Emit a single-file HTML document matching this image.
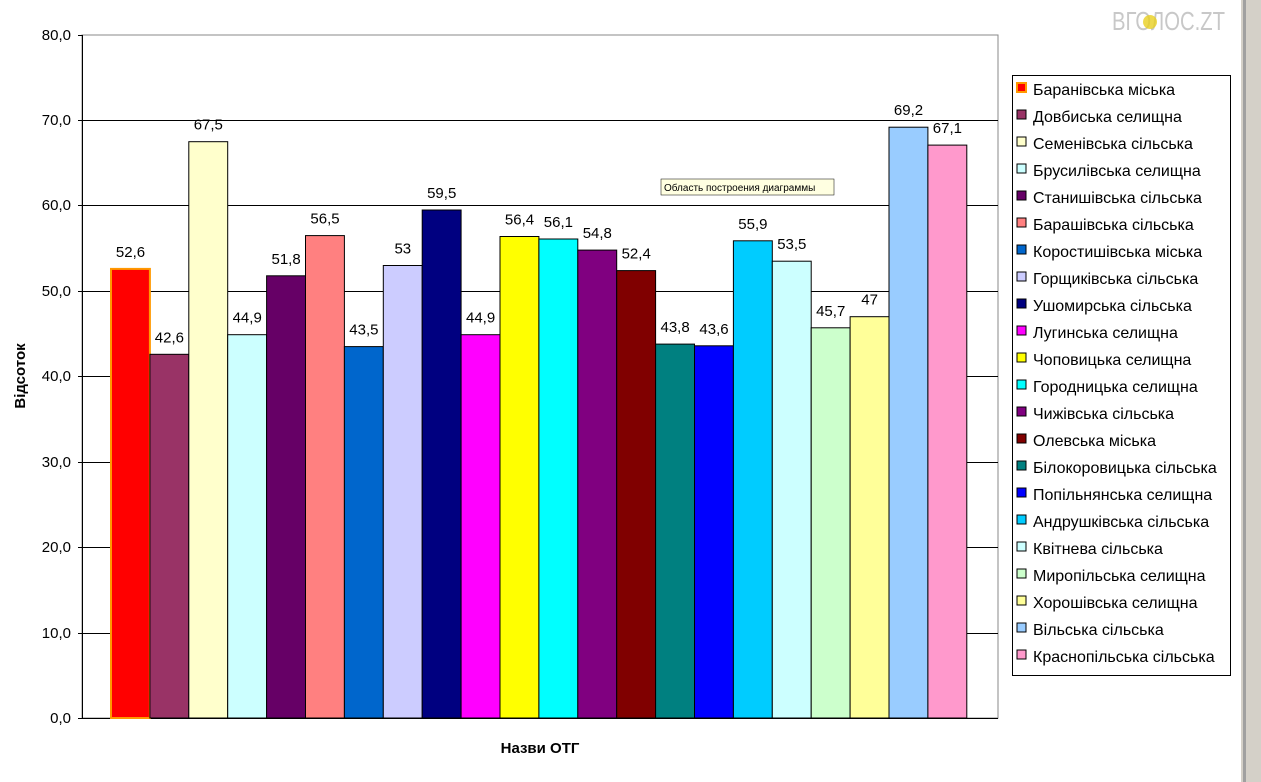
<!DOCTYPE html><html><head><meta charset="utf-8"><style>body{margin:0;background:#fff}svg{display:block}text{font-family:"Liberation Sans",sans-serif}</style></head><body>
<svg width="1261" height="782" viewBox="0 0 1261 782">
<rect x="1241" y="0" width="20" height="782" fill="#d4d0c8"/><rect x="1243" y="0" width="3" height="782" fill="#a0a0a0"/>
<text x="1112" y="30" font-size="26" fill="#c8c8c8" textLength="113" lengthAdjust="spacingAndGlyphs">ВГОЛОС.ZT</text>
<circle cx="1150" cy="22" r="7" fill="#e8d020" opacity="0.8"/>
<rect x="82" y="35" width="916" height="683" fill="#fff" stroke="#888" stroke-width="1"/>
<g stroke="#000" stroke-width="1">
<line x1="82" y1="120.5" x2="998" y2="120.5"/><line x1="82" y1="205.5" x2="998" y2="205.5"/><line x1="82" y1="291.5" x2="998" y2="291.5"/><line x1="82" y1="376.5" x2="998" y2="376.5"/><line x1="82" y1="462.5" x2="998" y2="462.5"/><line x1="82" y1="547.5" x2="998" y2="547.5"/><line x1="82" y1="633.5" x2="998" y2="633.5"/>
<line x1="82.5" y1="35" x2="82.5" y2="718"/><line x1="78" y1="718.5" x2="998" y2="718.5"/>
<line x1="78" y1="35.5" x2="82" y2="35.5"/><line x1="78" y1="120.5" x2="82" y2="120.5"/><line x1="78" y1="205.5" x2="82" y2="205.5"/><line x1="78" y1="291.5" x2="82" y2="291.5"/><line x1="78" y1="376.5" x2="82" y2="376.5"/><line x1="78" y1="462.5" x2="82" y2="462.5"/><line x1="78" y1="547.5" x2="82" y2="547.5"/><line x1="78" y1="633.5" x2="82" y2="633.5"/>
</g>
<g font-size="15" text-anchor="end" fill="#000">
<text x="71" y="40">80,0</text><text x="71" y="125">70,0</text><text x="71" y="210">60,0</text><text x="71" y="296">50,0</text><text x="71" y="381">40,0</text><text x="71" y="467">30,0</text><text x="71" y="552">20,0</text><text x="71" y="638">10,0</text><text x="71" y="723">0,0</text>
</g>
<text x="25" y="376" font-size="15" font-weight="bold" transform="rotate(-90 25 376)" text-anchor="middle">Відсоток</text>
<text x="540" y="753" font-size="15" font-weight="bold" text-anchor="middle">Назви ОТГ</text>
<g id="bars" stroke="#000" stroke-width="1"></g>
<g id="labels" font-size="15" text-anchor="middle"></g>
<rect x="661" y="179" width="173" height="16" fill="#ffffe1" stroke="#000" stroke-width="0.5"/>
<text x="664" y="191" font-size="10">Область построения диаграммы</text>
<rect x="1012.5" y="75.5" width="218" height="600" fill="#fff" stroke="#000"/>
<g id="leg" font-size="16"></g>
</svg>
<script>
var d=[["Баранівська міська",52.6,"#ff0000"],["Довбиська селищна",42.6,"#993366"],["Семенівська сільська",67.5,"#ffffcc"],["Брусилівська селищна",44.9,"#ccffff"],["Станишівська сільська",51.8,"#660066"],["Барашівська сільська",56.5,"#ff8080"],["Коростишівська міська",43.5,"#0066cc"],["Горщиківська сільська",53,"#ccccff"],["Ушомирська сільська",59.5,"#000080"],["Лугинська селищна",44.9,"#ff00ff"],["Чоповицька селищна",56.4,"#ffff00"],["Городницька селищна",56.1,"#00ffff"],["Чижівська сільська",54.8,"#800080"],["Олевська міська",52.4,"#800000"],["Білокоровицька сільська",43.8,"#008080"],["Попільнянська селищна",43.6,"#0000ff"],["Андрушківська сільська",55.9,"#00ccff"],["Квітнева сільська",53.5,"#ccffff"],["Миропільська селищна",45.7,"#ccffcc"],["Хорошівська селищна",47,"#ffff99"],["Вільська сільська",69.2,"#99ccff"],["Краснопільська сільська",67.1,"#ff99cc"]];
var ns="http://www.w3.org/2000/svg",B=document.getElementById("bars"),L=document.getElementById("labels"),G=document.getElementById("leg");
function el(t,a,p,tx){var e=document.createElementNS(ns,t);for(var k in a)e.setAttribute(k,a[k]);if(tx)e.textContent=tx;p.appendChild(e);return e;}
d.forEach(function(r,i){var x=111+i*38.9,y=718-r[1]*8.5375;
el("rect",{x:x.toFixed(1),y:y.toFixed(1),width:38.9,height:(718-y).toFixed(1),fill:r[2],stroke:i==0?"#ff9900":"#000","stroke-width":i==0?2:1},B);
el("text",{x:(x+19.5).toFixed(1),y:(y-12).toFixed(1)},L,String(r[1]).replace(".",","));
var ly=89+i*27;el("rect",{x:1017,y:ly-6,width:9,height:9,fill:r[2],stroke:i==0?"#ff9900":"#000","stroke-width":i==0?2:1},G);
el("text",{x:1033,y:ly+6},G,r[0]);});
</script>
</body></html>
